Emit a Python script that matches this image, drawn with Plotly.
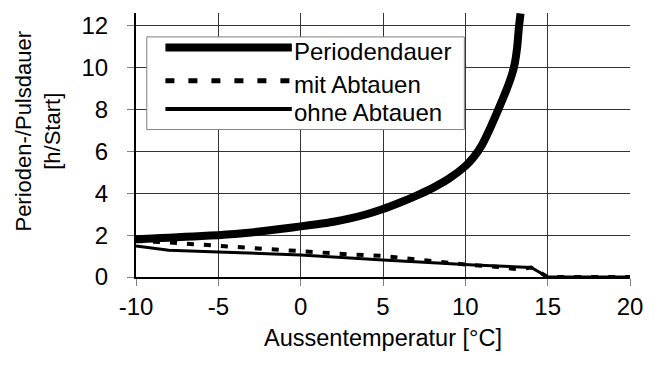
import plotly.graph_objects as go

# Outside temperature [°C] and cycle durations [h/Start]
t_periode = [-10, -9, -8, -7, -6, -5, -4, -3, -2, -1, 0, 1, 2, 3, 4, 5, 6, 7, 8, 9,
             10, 10.5, 11, 11.5, 12, 12.5, 12.8, 13.0, 13.15, 13.25, 13.35]
periodendauer = [1.80, 1.84, 1.88, 1.92, 1.96, 2.00, 2.06, 2.13, 2.22, 2.32, 2.42, 2.52,
                 2.64, 2.80, 3.00, 3.25, 3.55, 3.88, 4.25, 4.70, 5.30, 5.72, 6.30, 7.10,
                 8.00, 8.95, 9.60, 10.20, 11.00, 11.90, 12.60]

t_mit = [-10, -8, -5, -2, 0, 3, 5, 8, 10, 12, 13.25, 14, 15, 20]
mit_abtauen = [1.72, 1.65, 1.49, 1.33, 1.25, 1.08, 1.01, 0.76, 0.60, 0.48, 0.37, 0.45, 0.0, 0.0]

t_ohne = [-10, -8, -5, 0, 5, 9, 10.5, 14, 15, 20]
ohne_abtauen = [1.48, 1.28, 1.20, 1.05, 0.81, 0.61, 0.57, 0.46, 0.0, 0.0]

series_names = ["Periodendauer", "mit Abtauen", "ohne Abtauen"]
x_ticks = [-10, -5, 0, 5, 10, 15, 20]
y_ticks = [0, 2, 4, 6, 8, 10, 12]

FONT = "Liberation Sans, Arial, sans-serif"
W, H = 655, 369
ML, MR, MT, MB = 136, 15, 12, 92

styles = [
    dict(color="black", width=8, dash="solid", shape="spline", smoothing=0.5),
    dict(color="black", width=4, dash="7px,10px"),
    dict(color="black", width=3, dash="solid"),
]

fig = go.Figure()
fig.add_trace(go.Scatter(x=t_periode, y=periodendauer, mode="lines", name=series_names[0],
                         line=styles[0], showlegend=False))
fig.add_trace(go.Scatter(x=t_mit, y=mit_abtauen, mode="lines", name=series_names[1],
                         line=styles[1], showlegend=False))
fig.add_trace(go.Scatter(x=t_ohne, y=ohne_abtauen, mode="lines", name=series_names[2],
                         line=styles[2], showlegend=False))

pw, ph = W - ML - MR, H - MT - MB


def px_x(px):
    return (px - ML) / pw


def px_y(py):
    return (H - MB - py) / ph


# Legend box with long line samples
shapes = [dict(type="rect", xref="paper", yref="paper",
               x0=px_x(147), x1=px_x(471), y0=px_y(129), y1=px_y(36),
               line=dict(color="#808080", width=1), fillcolor="white", layer="above")]
legend_rows = [46.7, 80, 108.3]
legend_lines = [
    dict(color="black", width=8, dash="solid"),
    dict(color="black", width=5, dash="9px,14px"),
    dict(color="black", width=4, dash="solid"),
]
annotations = []
for name, row, ln in zip(series_names, legend_rows, legend_lines):
    shapes.append(dict(type="line", xref="paper", yref="paper",
                       x0=px_x(166), x1=px_x(295), y0=px_y(row), y1=px_y(row),
                       line=ln, layer="above"))
    annotations.append(dict(text=name, xref="paper", yref="paper",
                            x=px_x(295), y=px_y(row + 4), xanchor="left", yanchor="middle",
                            showarrow=False, font=dict(family=FONT, size=24, color="black")))

annotations.append(dict(text="Perioden-/Pulsdauer<br>[h/Start]", textangle=-90,
                        xref="paper", yref="paper", x=px_x(36), y=px_y(130),
                        xanchor="center", yanchor="middle", showarrow=False,
                        font=dict(family=FONT, size=22, color="black")))
annotations.append(dict(text="Aussentemperatur [°C]", xref="paper", yref="paper",
                        x=px_x(388), y=px_y(338), xanchor="center", yanchor="middle",
                        showarrow=False, font=dict(family=FONT, size=23.5, color="black")))

fig.update_layout(
    width=W, height=H,
    margin=dict(l=ML, r=MR, t=MT, b=MB),
    paper_bgcolor="white", plot_bgcolor="white",
    font=dict(family=FONT, size=24, color="black"),
    shapes=shapes, annotations=annotations,
    xaxis=dict(range=[-10, 20], tickvals=x_ticks, ticktext=[str(v) for v in x_ticks],
               showgrid=True, gridcolor="#333333", gridwidth=1, zeroline=False,
               showline=True, linecolor="black", linewidth=2,
               ticks="outside", ticklen=7, tickcolor="#808080", tickwidth=1),
    yaxis=dict(range=[0, 12.62], tickvals=y_ticks, ticktext=[str(v) for v in y_ticks],
               showgrid=True, gridcolor="#333333", gridwidth=1, zeroline=False,
               showline=True, linecolor="black", linewidth=2,
               ticks="outside", ticklen=7, tickcolor="#808080", tickwidth=1,
               ticklabelstandoff=14),
)

fig.write_html("out.html")
